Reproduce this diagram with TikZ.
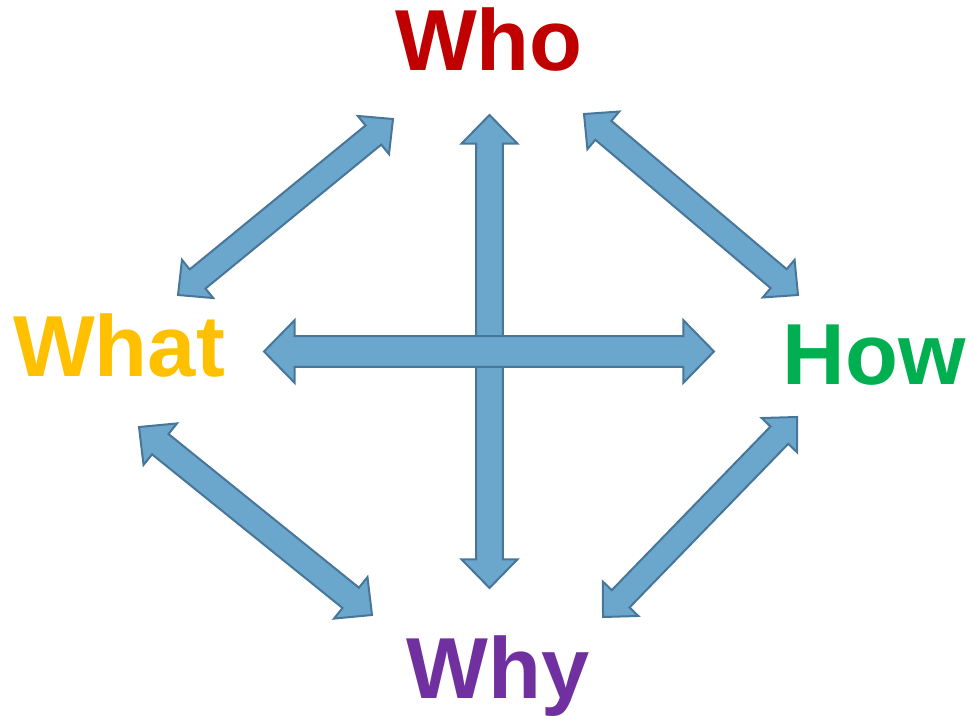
\documentclass[tikz,border=0pt]{standalone}
\usepackage{fontspec}
\setmainfont{Liberation Sans}
\usetikzlibrary{calc}
\definecolor{arrfill}{RGB}{107,166,205}
\definecolor{arrline}{RGB}{71,118,152}
\definecolor{cwho}{RGB}{192,0,0}
\definecolor{cwhat}{RGB}{255,192,0}
\definecolor{chow}{RGB}{0,176,80}
\definecolor{cwhy}{RGB}{112,48,160}
% #1 start, #2 end, #3 head length, #4 head half-width, #5 shaft half-width
\newcommand\dblarrow[5]{%
  \draw[blockarrow] (#1)
    -- ($(#1)!#3!(#2)!#4!90:(#2)$)
    -- ($(#1)!#3!(#2)!#5!90:(#2)$)
    -- ($(#2)!#3!(#1)!#5!-90:(#1)$)
    -- ($(#2)!#3!(#1)!#4!-90:(#1)$)
    -- (#2)
    -- ($(#2)!#3!(#1)!#4!90:(#1)$)
    -- ($(#2)!#3!(#1)!#5!90:(#1)$)
    -- ($(#1)!#3!(#2)!#5!-90:(#2)$)
    -- ($(#1)!#3!(#2)!#4!-90:(#2)$)
    -- cycle;}
\begin{document}
\begin{tikzpicture}[x=0.75pt,y=-0.75pt,
  word/.style={font=\fontsize{65}{65}\selectfont\bfseries, inner sep=0pt, anchor=base},
  blockarrow/.style={fill=arrfill, draw=arrline, line width=1.5pt, line join=miter}]
\useasboundingbox (0,0) rectangle (967,716);
\node[word, text=cwho]  (who)  at (489,71)  {Who};
\node[word, text=cwhat] (what) at (119,377) {What};
\node[word, text=chow]  (how)  at (874,385) {How};
\node[word, text=cwhy]  (why)  at (498,698) {Why};
% arrow end points
\coordinate (whoL)  at (393,119);
\coordinate (whatT) at (178,295);
\coordinate (whoR)  at (584,114);
\coordinate (howT)  at (798,295);
\coordinate (whatB) at (139,427);
\coordinate (whyL)  at (372,615);
\coordinate (howB)  at (797,417);
\coordinate (whyR)  at (603,617);
\coordinate (whoC)  at (489.5,115);
\coordinate (whyC)  at (489.5,588);
\coordinate (whatC) at (264,351.5);
\coordinate (howC)  at (714,351.5);
% diagonal arrows
\dblarrow{whatT}{whoL}{19pt}{18.5pt}{9.3pt}
\dblarrow{whoR}{howT}{19pt}{18.5pt}{9.3pt}
\dblarrow{whatB}{whyL}{20.5pt}{20pt}{9.8pt}
\dblarrow{whyR}{howB}{19pt}{18.5pt}{9.3pt}
% cross
\dblarrow{whoC}{whyC}{21.5pt}{21pt}{10.1pt}
\dblarrow{whatC}{howC}{23pt}{23.5pt}{11.5pt}
\end{tikzpicture}
\end{document}
